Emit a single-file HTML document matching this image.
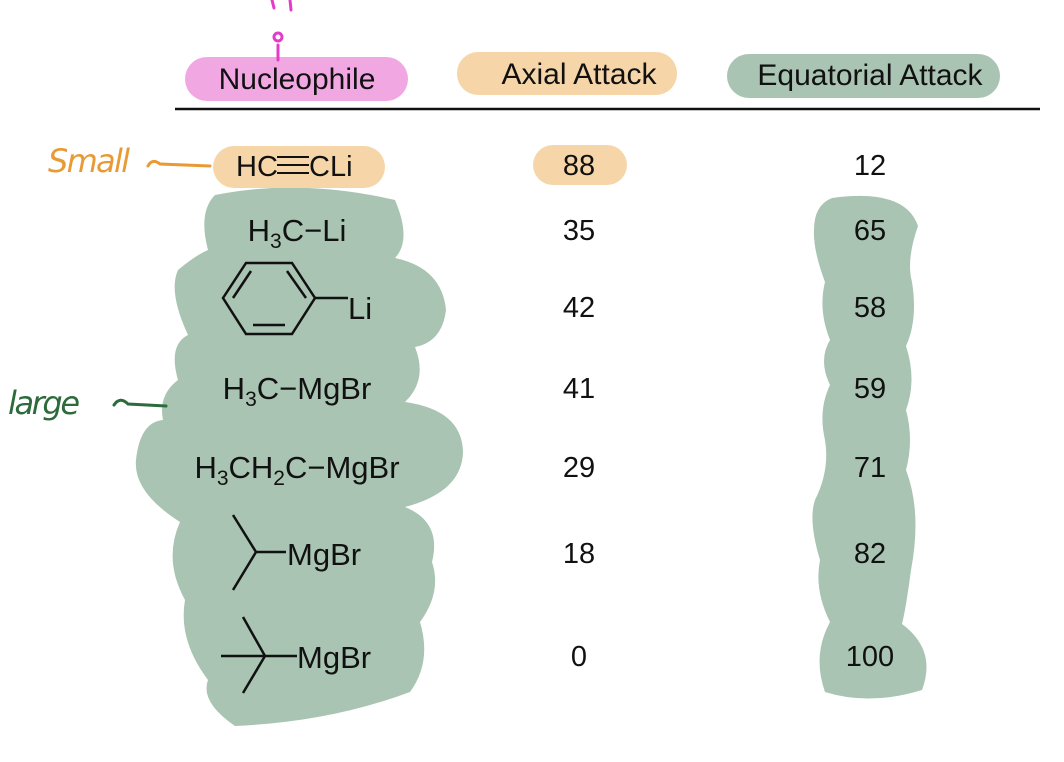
<!DOCTYPE html>
<html><head><style>
html,body{margin:0;padding:0;background:#fff;}
svg{display:block;}
text{font-family:"Liberation Sans",Arial,sans-serif;font-size:29px;fill:#111;}
.f{font-size:31px;}
.s{font-size:21px;}
</style></head><body>
<svg width="1064" height="762" viewBox="0 0 1064 762" xmlns="http://www.w3.org/2000/svg">
<path fill="#a9c4b2" d="M 215,195 Q 300,178 395,200 Q 412,240 395,258 Q 442,268 446,310 Q 442,342 415,347 Q 428,380 405,402 Q 462,410 463,452 Q 462,492 405,507 Q 442,522 432,562 Q 442,592 420,622 Q 432,662 410,692 Q 330,722 235,726 Q 200,702 208,680 Q 178,640 185,600 Q 163,560 180,522 Q 133,492 136,460 Q 140,422 163,420 Q 158,395 178,380 Q 168,345 188,335 Q 168,292 178,270 Q 196,255 208,250 Q 198,212 215,195 Z"/>
<path fill="#a9c4b2" d="M 832,198 Q 905,188 918,226 Q 906,260 912,282 Q 918,320 906,346 Q 917,380 906,410 Q 914,440 906,470 Q 922,512 911,570 Q 906,608 902,624 Q 937,650 922,690 Q 870,706 825,692 Q 812,655 830,622 Q 814,590 820,560 Q 808,520 815,500 Q 830,470 825,440 Q 818,410 830,385 Q 818,360 830,340 Q 818,310 825,282 Q 813,250 814,230 Q 814,205 832,198 Z"/>
<rect x="185" y="57" width="223" height="44" rx="22" fill="#f1a8e2"/>
<rect x="457" y="52" width="220" height="43" rx="21" fill="#f6d6a9"/>
<rect x="727" y="54" width="273" height="44" rx="22" fill="#a9c4b2"/>
<rect x="213" y="146" width="172" height="42" rx="21" fill="#f6d6a9"/>
<rect x="533" y="145" width="94" height="40" rx="20" fill="#f6d6a9"/>
<line x1="175" y1="109" x2="1040" y2="109" stroke="#111" stroke-width="2.5"/>
<path d="M272,0 L274,8 M290,0 L291,10 M278,45 L278,60" stroke="#e43cc9" stroke-width="3" fill="none" stroke-linecap="round"/>
<circle cx="278" cy="37" r="4" stroke="#e43cc9" stroke-width="3" fill="none"/>
<text x="48" y="172" style="font-family:'DejaVu Sans';font-size:32px;fill:#e89a35;font-style:italic" textLength="82">Small</text>
<path d="M148,166 Q152,158 160,164 L210,166" stroke="#e89a35" stroke-width="3" fill="none" stroke-linecap="round"/>
<text x="8" y="414" style="font-family:'DejaVu Sans';font-size:32px;fill:#2d6b3c;font-style:italic" textLength="72">large</text>
<path d="M114,405 Q120,396 128,404 L166,406" stroke="#2d6b3c" stroke-width="3" fill="none" stroke-linecap="round"/>
<g text-anchor="middle">
<text x="297" y="89" style="font-size:30px">Nucleophile</text>
<text x="579" y="84" style="font-size:30px">Axial Attack</text>
<text x="870" y="85" style="font-size:30px">Equatorial Attack</text>
</g>
<text x="236" y="176">HC</text>
<path d="M277,157 H309 M277,165 H309 M277,173 H309" stroke="#111" stroke-width="2"/>
<text x="309" y="176">CLi</text>
<text class="f" x="297" y="241" text-anchor="middle">H<tspan class="s" dy="7">3</tspan><tspan dy="-7">C−Li</tspan></text>
<g stroke="#111" stroke-width="2.5" fill="none">
<polygon points="223,298 246,263 292,263 315,298 292,334 246,334"/>
<line x1="253" y1="325" x2="285" y2="325"/>
<line x1="233" y1="298" x2="251" y2="271"/>
<line x1="287" y1="271" x2="306" y2="298"/>
<line x1="315" y1="298" x2="348" y2="298"/>
</g>
<text class="f" x="348" y="319">Li</text>
<text class="f" x="297" y="399" text-anchor="middle">H<tspan class="s" dy="7">3</tspan><tspan dy="-7">C−MgBr</tspan></text>
<text class="f" x="297" y="478" text-anchor="middle">H<tspan class="s" dy="7">3</tspan><tspan dy="-7">CH</tspan><tspan class="s" dy="7">2</tspan><tspan dy="-7">C−MgBr</tspan></text>
<g stroke="#111" stroke-width="2.5" fill="none">
<path d="M233,515 L256,552 L233,590 M256,552 H286"/>
<path d="M243,617 L265,656 L243,693 M221,656 H297"/>
</g>
<text class="f" x="287" y="565">MgBr</text>
<text class="f" x="297" y="668">MgBr</text>
<g text-anchor="middle">
<text x="579" y="175">88</text><text x="870" y="175">12</text>
<text x="579" y="240">35</text><text x="870" y="240">65</text>
<text x="579" y="317">42</text><text x="870" y="317">58</text>
<text x="579" y="398">41</text><text x="870" y="398">59</text>
<text x="579" y="477">29</text><text x="870" y="477">71</text>
<text x="579" y="563">18</text><text x="870" y="563">82</text>
<text x="579" y="666">0</text><text x="870" y="666">100</text>
</g>
</svg>
</body></html>
